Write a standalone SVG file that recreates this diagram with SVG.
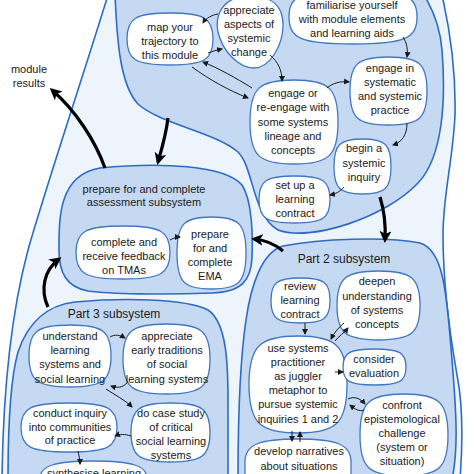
<svg xmlns="http://www.w3.org/2000/svg" width="474" height="474" viewBox="0 0 474 474">
<style>
.outer{fill:#edf4fc;stroke:#2e6cc0;stroke-width:1.6}
.blob{fill:#c5d9f2;stroke:#2e6cc0;stroke-width:1.6}
.bub{fill:#ffffff;stroke:#4177be;stroke-width:1.3}
text{font-family:"Liberation Sans",Arial,sans-serif;font-size:11px;fill:#1a1a1a;text-anchor:middle}
.ttl{font-size:12px}
.a{fill:none;stroke:#1a1a1a;stroke-width:1;marker-end:url(#ah)}
.ta{fill:none;stroke:#000;stroke-width:3.2;marker-end:url(#th)}
</style>
<defs>
<marker id="ah" markerUnits="userSpaceOnUse" markerWidth="7" markerHeight="7" refX="5" refY="3" orient="auto"><path d="M0,0 L6,3 L0,6 Z" fill="#1a1a1a"/></marker>
<marker id="th" markerUnits="userSpaceOnUse" markerWidth="13" markerHeight="13" refX="9" refY="6" orient="auto"><path d="M0,0 L12,6 L0,12 L3,6 Z" fill="#000"/></marker>
</defs>
<rect width="474" height="474" fill="#ffffff"/>
<g id="module-system">
<path class="outer" d="M108,-5 C85,70 45,190 28,250 C12,310 3,390 2,480 L460,480 C463,440 462,400 457,375 C450,335 443,280 443,235 C443,195 453,160 455,115 C456,70 450,30 442,-5 Z"/>
</g>
<g id="part1-subsystem">
<path class="blob" d="M115,-5 C117,40 120,85 138,104 C160,124 215,132 238,152 C254,168 252,215 278,230 C310,242 385,218 418,183 C443,157 446,100 442,50 C440,25 432,8 424,-5 Z"/>
</g>
<g id="assessment-subsystem">
<path class="blob" d="M100,168 C160,162 225,165 242,185 C252,200 253,235 252,258 C251,280 242,292 212,293 C160,295 110,294 88,291 C66,287 59,272 59,250 C59,220 58,175 100,168 Z"/>
<text x="144" y="193">prepare for and complete</text>
<text x="144" y="206">assessment subsystem</text>
</g>
<g id="part3-subsystem">
<path class="blob" d="M75,302 C120,298 185,298 208,310 C226,322 228,360 228,400 L228,480 L8,480 C8,430 10,380 18,352 C28,322 48,305 75,302 Z"/>
<text class="ttl" x="114" y="318">Part 3 subsystem</text>
</g>
<g id="part2-subsystem">
<path class="blob" d="M283,246 C320,239 385,236 420,243 C445,250 447,300 452,360 C457,420 458,450 452,480 L238,480 C238,430 240,360 246,320 C251,285 262,252 283,246 Z"/>
<text class="ttl" x="344" y="263">Part 2 subsystem</text>
</g>
<g id="module-results">
<text x="29" y="73">module</text>
<text x="29" y="87">results</text>
</g>
<g id="map-trajectory">
<path class="bub" d="M170,13 C204.4,13 213,18.2 213,39 C213,59.8 204.4,65 170,65 C135.6,65 127,59.8 127,39 C127,18.2 135.6,13 170,13Z"/>
<text x="170" y="31">map your</text><text x="170" y="45">trajectory to</text><text x="170" y="59">this module</text>
</g>
<g id="appreciate-change">
<path class="bub" d="M249,-4 C272,-4 283,5 283,25 C283,45 270,68 254,68 C238,68 222,50 218,32 C214,12 226,-4 249,-4Z"/>
<text x="249" y="14">appreciate</text><text x="249" y="28">aspects of</text><text x="249" y="42">systemic</text><text x="249" y="56">change</text>
</g>
<g id="familiarise">
<path class="bub" d="M353,-10 C404.2,-10 417,-4.6 417,17 C417,38.6 404.2,44 353,44 C301.8,44 289,38.6 289,17 C289,-4.6 301.8,-10 353,-10Z"/>
<text x="352" y="9">familiarise yourself</text><text x="352" y="23">with module elements</text><text x="352" y="37">and learning aids</text>
</g>
<g id="engage-lineage">
<path class="bub" d="M294,80 C329.2,80 338,88.4 338,122 C338,155.6 329.2,164 294,164 C258.8,164 250,155.6 250,122 C250,88.4 258.8,80 294,80Z"/>
<text x="293" y="97">engage or</text><text x="293" y="111">re-engage with</text><text x="293" y="126">some systems</text><text x="293" y="140">lineage and</text><text x="293" y="154">concepts</text>
</g>
<g id="engage-practice">
<path class="bub" d="M388.5,57 C419.3,57 427,63.8 427,91 C427,118.2 419.3,125 388.5,125 C357.7,125 350,118.2 350,91 C350,63.8 357.7,57 388.5,57Z"/>
<text x="390" y="72">engage in</text><text x="390" y="86">systematic</text><text x="390" y="100">and systemic</text><text x="390" y="114">practice</text>
</g>
<g id="begin-inquiry">
<path class="bub" d="M362.5,139 C385.3,139 391,144.5 391,166.5 C391,188.5 385.3,194 362.5,194 C339.7,194 334,188.5 334,166.5 C334,144.5 339.7,139 362.5,139Z"/>
<text x="364" y="152">begin a</text><text x="364" y="167">systemic</text><text x="364" y="181">inquiry</text>
</g>
<g id="set-up-contract">
<path class="bub" d="M294.5,176 C322.9,176 330,180.7 330,199.5 C330,218.3 322.9,223 294.5,223 C266.1,223 259,218.3 259,199.5 C259,180.7 266.1,176 294.5,176Z"/>
<text x="295" y="189">set up a</text><text x="295" y="203">learning</text><text x="295" y="217">contract</text>
</g>
<g id="tmas">
<path class="bub" d="M123,226 C160.6,226 170,231.3 170,252.5 C170,273.7 160.6,279 123,279 C85.4,279 76,273.7 76,252.5 C76,231.3 85.4,226 123,226Z"/>
<text x="124" y="246">complete and</text><text x="124" y="260">receive feedback</text><text x="124" y="274">on TMAs</text>
</g>
<g id="ema">
<path class="bub" d="M211.5,217 C239.1,217 246,224 246,253 C246,282 239.1,289 211.5,289 C183.9,289 177,282 177,253 C177,224 183.9,217 211.5,217Z"/>
<text x="210" y="238">prepare</text><text x="210" y="252">for and</text><text x="210" y="266">complete</text><text x="210" y="280">EMA</text>
</g>
<g id="understand-learning">
<path class="bub" d="M70,325 C102.8,325 111,331.2 111,356 C111,380.8 102.8,387 70,387 C37.2,387 29,380.8 29,356 C29,331.2 37.2,325 70,325Z"/>
<text x="70" y="340">understand</text><text x="70" y="354">learning</text><text x="70" y="368">systems and</text><text x="70" y="383">social learning</text>
</g>
<g id="early-traditions">
<path class="bub" d="M166.5,324 C201.3,324 210,331 210,359 C210,387 201.3,394 166.5,394 C131.7,394 123,387 123,359 C123,331 131.7,324 166.5,324Z"/>
<text x="167" y="340">appreciate</text><text x="167" y="354">early traditions</text><text x="167" y="368">of social</text><text x="167" y="383">learning systems</text>
</g>
<g id="conduct-inquiry">
<path class="bub" d="M69,403 C107.4,403 117,407.9 117,427.5 C117,447.1 107.4,452 69,452 C30.6,452 21,447.1 21,427.5 C21,407.9 30.6,403 69,403Z"/>
<text x="70" y="417">conduct inquiry</text><text x="70" y="431">into communities</text><text x="70" y="444">of practice</text>
</g>
<g id="case-study">
<path class="bub" d="M170.5,403 C202.1,403 210,408.9 210,432.5 C210,456.1 202.1,462 170.5,462 C138.9,462 131,456.1 131,432.5 C131,408.9 138.9,403 170.5,403Z"/>
<text x="171" y="417">do case study</text><text x="171" y="431">of critical</text><text x="171" y="445">social learning</text><text x="171" y="459">systems</text>
</g>
<g id="synthesise">
<path class="bub" d="M40,490 L40,478 C40,466 55,461 93.5,461 C132,461 147,466 147,478 L147,490 Z"/>
<text x="94" y="477">synthesise learning</text>
</g>
<g id="review-contract">
<path class="bub" d="M300.5,278 C324.1,278 330,282.5 330,300.5 C330,318.5 324.1,323 300.5,323 C276.9,323 271,318.5 271,300.5 C271,282.5 276.9,278 300.5,278Z"/>
<text x="300" y="290">review</text><text x="300" y="304">learning</text><text x="300" y="318">contract</text>
</g>
<g id="deepen">
<path class="bub" d="M378.5,271 C411.7,271 420,277.9 420,305.5 C420,333.1 411.7,340 378.5,340 C345.3,340 337,333.1 337,305.5 C337,277.9 345.3,271 378.5,271Z"/>
<text x="377" y="285">deepen</text><text x="377" y="300">understanding</text><text x="377" y="314">of systems</text><text x="377" y="328">concepts</text>
</g>
<g id="juggler">
<path class="bub" d="M298,336 C336,336 347,345.7 347,384.5 C347,423.3 336,433 298,433 C260,433 249,423.3 249,384.5 C249,345.7 260,336 298,336Z"/>
<text x="298" y="352">use systems</text><text x="298" y="366">practitioner</text><text x="298" y="380">as juggler</text><text x="298" y="394">metaphor to</text><text x="298" y="408">pursue systemic</text><text x="298" y="423">inquiries 1 and 2</text>
</g>
<g id="evaluation">
<path class="bub" d="M374.5,349 C399.7,349 406,352.6 406,367 C406,381.4 399.7,385 374.5,385 C349.3,385 343,381.4 343,367 C343,352.6 349.3,349 374.5,349Z"/>
<text x="374" y="363">consider</text><text x="374" y="377">evaluation</text>
</g>
<g id="confront">
<path class="bub" d="M404,394 C439.2,394 448,402.2 448,435 C448,467.8 439.2,476 404,476 C368.8,476 360,467.8 360,435 C360,402.2 368.8,394 404,394Z"/>
<text x="402" y="409">confront</text><text x="402" y="423">epistemological</text><text x="402" y="437">challenge</text><text x="402" y="451">(system or</text><text x="402" y="465">situation)</text>
</g>
<g id="narratives">
<path class="bub" d="M245,490 L245,462 C245,444 260,439 298,439 C336,439 351,444 351,462 L351,490 Z"/>
<text x="299" y="455">develop narratives</text><text x="299" y="470">about situations</text>
</g>
<g id="connectors">
<path class="a" d="M218,14 C212,15 206,18 203,23"/>
<path class="a" d="M208,53 C213,51 217,50 222,49"/>
<path class="a" d="M252,88 C236,78 218,68 203,62"/>
<path class="a" d="M192,67 C210,80 228,90 248,98"/>
<path class="a" d="M270,55 C278,62 282,70 282,81"/>
<path class="a" d="M403,37 C407,43 408,50 407,57"/>
<path class="a" d="M327,88 C333,83 340,81 349,82"/>
<path class="a" d="M407,123 C407,135 402,142 393,145"/>
<path class="a" d="M344,187 C340,192 335,194 330,195"/>
<path class="a" d="M170,240 C174,238 176,237 180,237"/>
<path class="a" d="M110,337 C115,334 120,335 125,338"/>
<path class="a" d="M127,383 C122,388 117,388 111,386"/>
<path class="a" d="M106,389 C115,395 125,400 132,407"/>
<path class="a" d="M131,436 C125,434 120,434 115,436"/>
<path class="a" d="M78,451 C79,456 80,460 80,464"/>
<path class="a" d="M305,323 L305,334"/>
<path class="a" d="M335,341 C339,336 344,333 348,328"/>
<path class="a" d="M344,323 C339,327 334,333 331,339"/>
<path class="a" d="M335,372 L343,372"/>
<path class="a" d="M348,399 C354,396 360,398 365,404"/>
<path class="a" d="M364,410 C359,412 355,409 350,405"/>
<path class="a" d="M292,431 L292,441"/>
<path class="a" d="M300,442 L300,432"/>
<path class="ta" d="M168,118 C166,135 162,148 158,162"/>
<path class="ta" d="M380,197 C384,210 386,222 385,240"/>
<path class="ta" d="M105,168 C95,140 75,110 52,90"/>
<path class="ta" d="M283,251 C275,244 264,240 254,239"/>
<path class="ta" d="M48,307 C40,290 44,270 59,259"/>
</g>
</svg>
